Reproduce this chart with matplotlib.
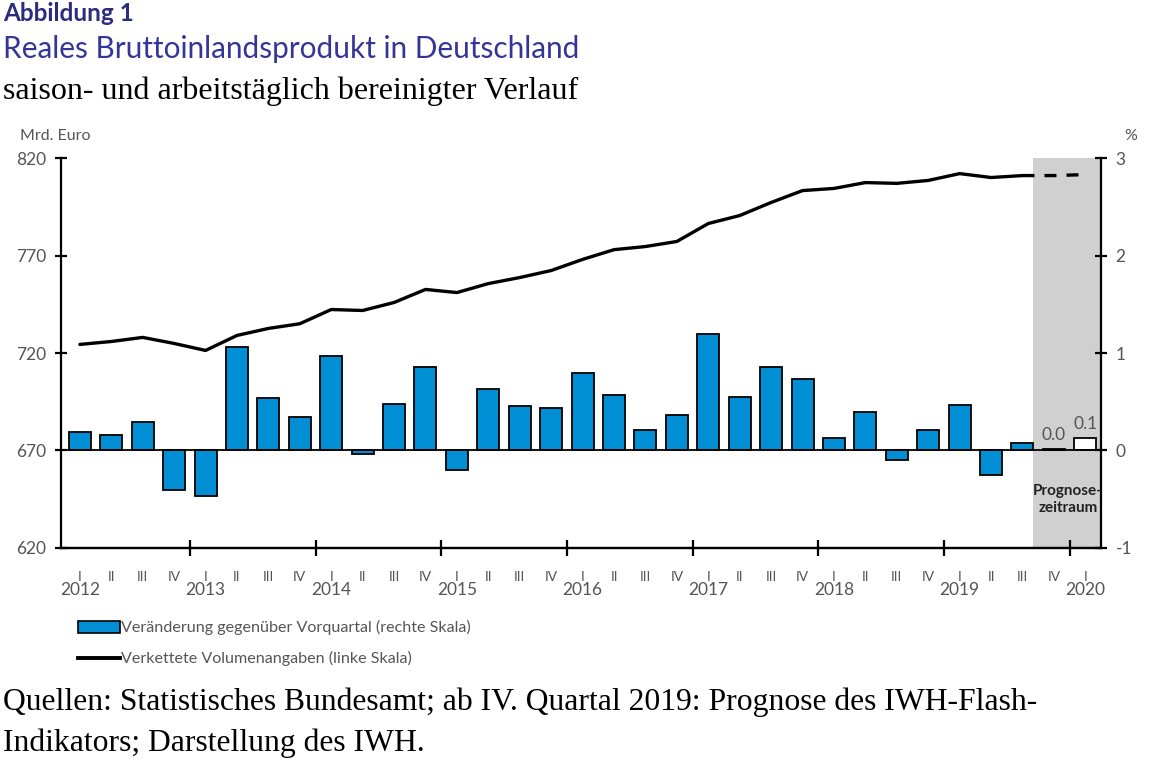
import numpy as np
import matplotlib
matplotlib.use("Agg")
import matplotlib.pyplot as plt
import matplotlib.transforms as mtransforms

# Quarterly data 2012 Q1 - 2020 Q1
quarters = ["I", "II", "III", "IV"] * 8 + ["I"]
years = ["2012", "2013", "2014", "2015", "2016", "2017", "2018", "2019", "2020"]

# Veränderung gegenüber Vorquartal in % (rechte Skala)
change = [0.19, 0.16, 0.29, -0.41, -0.47, 1.06, 0.54, 0.34,
          0.97, -0.04, 0.48, 0.86, -0.20, 0.63, 0.46, 0.44,
          0.79, 0.57, 0.21, 0.36, 1.19, 0.55, 0.86, 0.73,
          0.13, 0.39, -0.10, 0.21, 0.47, -0.25, 0.08, 0.02, 0.13]
change_labels = ["0.0", "0.1"]  # forecast quarters

# Verkettete Volumenangaben in Mrd. Euro (linke Skala)
gdp = [724.4, 725.9, 728.0, 724.9, 721.3, 729.0, 732.6, 735.0,
       742.3, 741.8, 745.9, 752.6, 751.0, 755.6, 758.7, 762.3,
       768.0, 773.0, 774.6, 777.2, 786.4, 790.5, 797.2, 803.3,
       804.4, 807.4, 807.0, 808.5, 812.0, 810.0, 811.0, 811.0, 811.5]
n_forecast = 2

blue = "#008FD5"
grey_txt = "#555555"
sans = ["Lato", "DejaVu Sans"]
serif = ["Liberation Serif", "DejaVu Serif"]

n = len(quarters)
x = np.arange(n)

fig = plt.figure(figsize=(11.51, 7.63), dpi=100)
ax = fig.add_axes([0.053, 0.2818, 0.9036, 0.5111])
ax2 = ax.twinx()

# prognosis shading
ax2.axvspan(n - n_forecast - 0.66, n - 0.3, color="#D0D0D0", zorder=0, lw=0)

colors = [blue] * (n - n_forecast) + ["white"] * n_forecast
ax2.bar(x, change, width=0.7, color=colors, edgecolor="black", linewidth=1.3, zorder=2)
ax2.axhline(0, color="black", lw=1.3, zorder=3)
for xi, val, lab in zip(x[-n_forecast:], change[-n_forecast:], change_labels):
    ax2.text(xi, val + 0.06, lab, ha="center", va="bottom", fontsize=12.5,
             color=grey_txt, family=sans, zorder=4)
ax2.text(n - n_forecast + 0.45, -0.5, "Prognose-\nzeitraum", ha="center", va="center",
         fontsize=11, fontweight="bold", color="#222222", family=sans,
         linespacing=1.25, zorder=4)

# line on left axis, above bars
ax.set_zorder(ax2.get_zorder() + 1)
ax.patch.set_visible(False)
k = n - n_forecast
ax.plot(x[:k], gdp[:k], color="black", lw=2.4, solid_capstyle="round", zorder=5)
ax.plot(x[k - 1:], gdp[k - 1:], color="black", lw=2.4, linestyle=(0, (3.6, 3.0)), zorder=5)

ax.set_xlim(-0.6, n - 0.5)
ax.set_ylim(620, 820)
ax.set_yticks([620, 670, 720, 770, 820])
ax2.set_ylim(-1, 3)
ax2.set_yticks([-1, 0, 1, 2, 3])
ax2.set_yticklabels(["-1", "0", "1", "2", "3"])

for a in (ax, ax2):
    a.spines["top"].set_visible(False)
    for s in ("left", "right", "bottom"):
        a.spines[s].set_linewidth(1.6)
    a.tick_params(axis="y", direction="inout", length=9, width=1.6,
                  labelsize=12.5, labelcolor=grey_txt, pad=6)
ax2.spines["left"].set_visible(False)
ax.spines["right"].set_visible(False)
for lab in ax.get_yticklabels() + ax2.get_yticklabels():
    lab.set_family(sans)

# x axis: year boundaries as major ticks, quarter labels as text
ax.set_xticks(np.arange(3.5, n - 1, 4))
ax.set_xticklabels([])
ax.tick_params(axis="x", direction="inout", length=11, width=1.6)
trans = mtransforms.blended_transform_factory(ax.transData, ax.transAxes)
for xi, q in zip(x, quarters):
    ax.text(xi, -0.075, q, transform=trans, ha="center", va="center",
            fontsize=10, color=grey_txt, family=sans)
for i, yr in enumerate(years):
    ax.text(i * 4, -0.107, yr, transform=trans, ha="center", va="center",
            fontsize=12.5, color=grey_txt, family=sans)

# axis unit labels
fig.text(0.017, 0.822, "Mrd. Euro", fontsize=11.5, color=grey_txt, family=sans, va="center")
fig.text(0.988, 0.822, "%", fontsize=11.5, color=grey_txt, family=sans, va="center", ha="right")

# legend (drawn manually)
fig.patches.append(plt.Rectangle((0.068, 0.171), 0.036, 0.015, transform=fig.transFigure,
                                 facecolor=blue, edgecolor="black", lw=1.2))
fig.text(0.105, 0.178, "Veränderung gegenüber Vorquartal (rechte Skala)", fontsize=11.6,
         color=grey_txt, family=sans, va="center")
fig.lines.append(plt.Line2D([0.068, 0.104], [0.137, 0.137], transform=fig.transFigure,
                            color="black", lw=2.8))
fig.text(0.105, 0.137, "Verkettete Volumenangaben (linke Skala)", fontsize=11.6,
         color=grey_txt, family=sans, va="center")

# titles
fig.text(0.003, 0.982, "Abbildung 1", fontsize=17.5, fontweight="bold", color="#2B2C7C",
         family=sans, va="center")
fig.text(0.003, 0.936, "Reales Bruttoinlandsprodukt in Deutschland", fontsize=21.4,
         color="#343597", family=sans, va="center")
fig.text(0.003, 0.881, "saison- und arbeitstäglich bereinigter Verlauf", fontsize=23,
         color="black", family=serif, va="center")

# source
fig.text(0.003, 0.079, "Quellen: Statistisches Bundesamt; ab IV. Quartal 2019: Prognose des IWH-Flash-",
         fontsize=22.8, color="black", family=serif, va="center")
fig.text(0.003, 0.026, "Indikators; Darstellung des IWH.", fontsize=22.8, color="black",
         family=serif, va="center")

fig.savefig("out.png", dpi=100)
